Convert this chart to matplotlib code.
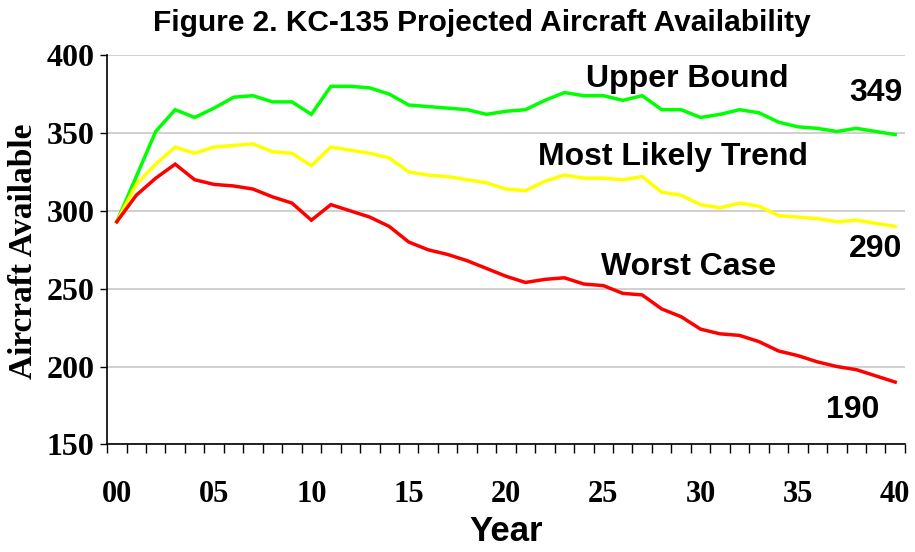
import numpy as np
import matplotlib
matplotlib.use('Agg')
import matplotlib.pyplot as plt
from matplotlib.ticker import FixedLocator

# data
years = list(range(0, 41))
year_labels = [f"{y:02d}" for y in range(0, 41, 5)]

upper_bound = [293, 322, 351, 365, 360, 366, 373, 374, 370, 370,
               362, 380, 380, 379, 375, 368, 367, 366, 365, 362,
               364, 365, 371, 376, 374, 374, 371, 374, 365, 365,
               360, 362, 365, 363, 357, 354, 353, 351, 353, 351, 349]
most_likely = [293, 317, 330, 341, 337, 341, 342, 343, 338, 337,
               329, 341, 339, 337, 334, 325, 323, 322, 320, 318,
               314, 313, 319, 323, 321, 321, 320, 322, 312, 310,
               304, 302, 305, 303, 297, 296, 295, 293, 294, 292, 290]
worst_case = [293, 310, 321, 330, 320, 317, 316, 314, 309, 305,
              294, 304, 300, 296, 290, 280, 275, 272, 268, 263,
              258, 254, 256, 257, 253, 252, 247, 246, 237, 232,
              224, 221, 220, 216, 210, 207, 203, 200, 198, 194, 190]

line_colors = ['#00ff00', '#ffff00', '#ff0000']

SANS = 'Liberation Sans'
SERIF = 'Liberation Serif'

fig = plt.figure(figsize=(9.15, 5.52), dpi=100)
ax = fig.add_axes([0.117, 0.195, 0.872, 0.705])

for series, c in zip([upper_bound, most_likely, worst_case], line_colors):
    ax.plot(years, series, color=c, linewidth=2.5, solid_joinstyle='miter', zorder=3)

ax.set_xlim(-0.5, 40.5)
ax.set_ylim(150, 400)

# category style x axis: tick marks between years, labels every 5
ax.xaxis.set_major_locator(FixedLocator(list(range(0, 41, 5))))
ax.set_xticklabels(year_labels)
ax.xaxis.set_minor_locator(FixedLocator(list(np.arange(-0.5, 41, 1.0))))
ax.tick_params(axis='x', which='major', length=0, pad=26)
ax.tick_params(axis='x', which='minor', length=6.5, width=1, direction='out')
ax.set_yticks([150, 200, 250, 300, 350, 400])
ax.tick_params(axis='y', length=5, width=1, pad=4)

for lab in ax.get_xticklabels():
    lab.set_fontfamily(SERIF)
    lab.set_fontweight('bold')
    lab.set_fontsize(22)
for lab in ax.get_yticklabels():
    lab.set_fontfamily(SERIF)
    lab.set_fontweight('bold')
    lab.set_fontsize(23)

ax.grid(axis='y', color='#c8c8c8', linewidth=1.2, zorder=0)
ax.spines['top'].set_visible(False)
ax.spines['right'].set_visible(False)
ax.spines['left'].set_linewidth(1.2)
ax.spines['bottom'].set_linewidth(1.2)

ax.set_xlabel('Year', fontfamily=SANS, fontweight='bold', fontsize=25, labelpad=4)
fig.text(0.026, 0.545, 'Aircraft Available', rotation=90, ha='center', va='center',
         fontfamily=SERIF, fontweight='bold', fontsize=24)
fig.text(0.527, 0.958, 'Figure 2. KC-135 Projected Aircraft Availability',
         ha='center', va='center', fontfamily=SANS, fontweight='bold', fontsize=21.5)

# series labels and end values
ax.text(29.3, 379.6, 'Upper Bound', ha='center', va='baseline',
        fontfamily=SANS, fontweight='bold', fontsize=23)
ax.text(28.6, 329.3, 'Most Likely Trend', ha='center', va='baseline',
        fontfamily=SANS, fontweight='bold', fontsize=23)
ax.text(29.4, 258.7, 'Worst Case', ha='center', va='baseline',
        fontfamily=SANS, fontweight='bold', fontsize=23)
ax.text(39.0, 370.6, str(upper_bound[-1]), ha='center', va='baseline',
        fontfamily=SANS, fontweight='bold', fontsize=23)
ax.text(39.0, 270.5, str(most_likely[-1]), ha='center', va='baseline',
        fontfamily=SANS, fontweight='bold', fontsize=23)
ax.text(37.8, 166.9, str(worst_case[-1]), ha='center', va='baseline',
        fontfamily=SANS, fontweight='bold', fontsize=23)

fig.savefig('out.png', dpi=100)
